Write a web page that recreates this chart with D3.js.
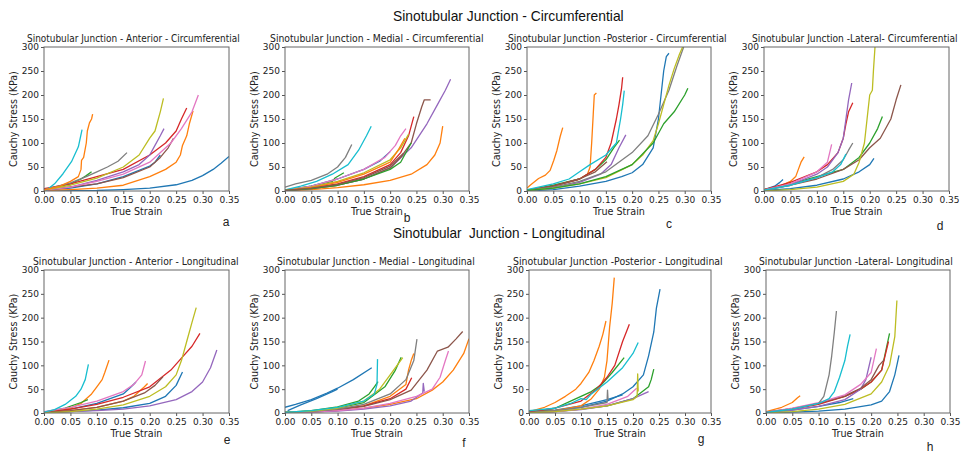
<!DOCTYPE html>
<html>
<head>
<meta charset="utf-8">
<script src="https://cdn.jsdelivr.net/npm/d3@7"></script>
<style>
  body { margin: 0; background: #fff; }
  svg { display: block; }
</style>
</head>
<body>
<div id="chart"></div>
<script>
// strain ticks / stress ticks shared by every subplot
const strainTicks = [0, 0.05, 0.10, 0.15, 0.20, 0.25, 0.30, 0.35];
const stressTicks = [0, 50, 100, 150, 200, 250, 300];

const rowTitles = ["Sinotubular Junction - Circumferential", "Sinotubular  Junction - Longitudinal"];
const panelTitles = [
  "Sinotubular Junction - Anterior - Circumferential",
  "Sinotubular Junction - Medial - Circumferential",
  "Sinotubular Junction -Posterior - Circumferential",
  "Sinotubular Junction -Lateral- Circumferential",
  "Sinotubular Junction - Anterior - Longitudinal",
  "Sinotubular Junction - Medial - Longitudinal",
  "Sinotubular Junction -Posterior - Longitudinal",
  "Sinotubular Junction -Lateral- Longitudinal"
];
const panelLetters = ["a", "b", "c", "d", "e", "f", "g", "h"];

// each series: s = specimen index (matplotlib colour cycle), pts = [strain, stress kPa]
const anteriorCirc = [
  {s: 0, pts: [[0,0],[0.1,1],[0.15,3],[0.2,6],[0.25,13],[0.28,22],[0.3,32],[0.32,45],[0.335,58],[0.35,72]]},
  {s: 0, pts: [[0,2],[0.05,6],[0.1,15],[0.15,30],[0.2,52],[0.21,60],[0.22,75]]},
  {s: 1, pts: [[0,1],[0.05,3],[0.1,6],[0.15,12],[0.2,30],[0.23,45],[0.25,60],[0.258,75],[0.262,95],[0.27,115],[0.275,140],[0.282,167]]},
  {s: 2, pts: [[0,3],[0.05,15],[0.07,25],[0.08,32],[0.09,40]]},
  {s: 3, pts: [[0,5],[0.05,15],[0.1,30],[0.15,45],[0.2,75],[0.23,100],[0.25,125],[0.26,150],[0.27,173]]},
  {s: 4, pts: [[0,1],[0.05,8],[0.1,22],[0.15,40],[0.18,55],[0.2,75],[0.21,95],[0.22,115],[0.227,130]]},
  {s: 5, pts: [[0,2],[0.1,15],[0.15,28],[0.2,50],[0.22,70],[0.235,90],[0.245,110]]},
  {s: 6, pts: [[0,2],[0.05,8],[0.1,20],[0.15,35],[0.2,60],[0.24,100],[0.26,130],[0.28,165],[0.292,200]]},
  {s: 7, pts: [[0,3],[0.05,17],[0.08,30],[0.1,40],[0.12,50],[0.14,62],[0.157,80]]},
  {s: 8, pts: [[0,2],[0.05,12],[0.1,27],[0.15,50],[0.18,75],[0.2,110],[0.21,125],[0.22,165],[0.226,193]]},
  {s: 9, pts: [[0.004,1],[0.02,15],[0.036,36],[0.052,61],[0.065,92],[0.072,128]]},
  {s: 1, pts: [[0,2],[0.03,10],[0.05,20],[0.065,30],[0.07,45],[0.071,64],[0.075,70],[0.08,100],[0.082,125],[0.086,142],[0.09,150],[0.092,160]]}
];

const medialCirc = [
  {s: 0, pts: [[0,1],[0.05,10],[0.1,25],[0.15,45],[0.18,62],[0.2,82]]},
  {s: 1, pts: [[0,0],[0.05,3],[0.1,7],[0.15,13],[0.2,22],[0.24,35],[0.27,55],[0.285,75],[0.295,100],[0.3,135]]},
  {s: 2, pts: [[0,2],[0.05,10],[0.09,20],[0.095,27],[0.112,38]]},
  {s: 3, pts: [[0,1],[0.05,6],[0.1,15],[0.15,30],[0.2,55],[0.22,80],[0.235,115],[0.245,155]]},
  {s: 4, pts: [[0,1],[0.05,5],[0.1,12],[0.15,25],[0.2,48],[0.24,90],[0.27,140],[0.29,180],[0.305,210],[0.315,233]]},
  {s: 5, pts: [[0,1],[0.05,5],[0.1,12],[0.15,25],[0.2,48],[0.22,70],[0.24,100],[0.25,140],[0.26,175],[0.265,190],[0.277,190]]},
  {s: 6, pts: [[0,2],[0.05,10],[0.1,25],[0.15,45],[0.19,70],[0.21,95],[0.22,115],[0.23,130]]},
  {s: 7, pts: [[0,8],[0.02,15],[0.05,22],[0.08,35],[0.1,50],[0.115,70],[0.127,97]]},
  {s: 8, pts: [[0,1],[0.05,8],[0.1,20],[0.15,38],[0.2,65],[0.22,90],[0.235,118]]},
  {s: 9, pts: [[0,2],[0.03,10],[0.06,20],[0.09,35],[0.12,55],[0.14,85],[0.155,115],[0.164,135]]},
  {s: 1, pts: [[0,1],[0.05,7],[0.1,18],[0.15,35],[0.2,60],[0.215,85],[0.228,110]]},
  {s: 2, pts: [[0,1],[0.05,5],[0.1,12],[0.15,25],[0.2,45],[0.22,60],[0.24,100]]},
  {s: 5, pts: [[0,1],[0.05,6],[0.1,14],[0.15,28],[0.2,52],[0.225,78]]}
];

const posteriorCirc = [
  {s: 0, pts: [[0,0],[0.05,3],[0.1,10],[0.15,20],[0.18,30],[0.2,38],[0.22,55],[0.24,90],[0.25,150],[0.255,200],[0.26,250],[0.265,280],[0.27,287]]},
  {s: 1, pts: [[0,6],[0.006,12],[0.022,26],[0.035,33],[0.044,43],[0.051,64],[0.057,85],[0.063,113],[0.068,132]]},
  {s: 1, pts: [[0,1],[0.05,10],[0.1,25],[0.115,35],[0.12,50],[0.123,100],[0.126,160],[0.128,200],[0.132,204]]},
  {s: 2, pts: [[0,2],[0.05,12],[0.1,25],[0.13,45],[0.15,65],[0.165,90],[0.176,106]]},
  {s: 3, pts: [[0,2],[0.05,10],[0.1,25],[0.13,45],[0.15,70],[0.16,100],[0.17,150],[0.175,180],[0.18,215],[0.182,237]]},
  {s: 4, pts: [[0,1],[0.05,6],[0.1,18],[0.14,35],[0.16,55],[0.175,90],[0.188,117]]},
  {s: 5, pts: [[0,2],[0.05,10],[0.1,25],[0.13,40],[0.152,61]]},
  {s: 7, pts: [[0,1],[0.05,8],[0.1,20],[0.15,40],[0.2,80],[0.23,115],[0.25,160],[0.27,210],[0.285,260],[0.298,300]]},
  {s: 8, pts: [[0,1],[0.05,6],[0.1,15],[0.15,28],[0.2,55],[0.22,75],[0.24,105],[0.25,140],[0.26,180],[0.27,220],[0.28,255],[0.29,285],[0.296,300]]},
  {s: 9, pts: [[0,3],[0.05,15],[0.08,25],[0.1,40],[0.12,55],[0.15,75],[0.17,100],[0.178,150],[0.182,180],[0.185,209]]},
  {s: 2, pts: [[0,1],[0.05,6],[0.1,15],[0.15,30],[0.2,55],[0.24,100],[0.26,140],[0.28,165],[0.3,200],[0.306,214]]}
];

const lateralCirc = [
  {s: 0, pts: [[0,3],[0.02,10],[0.03,18],[0.036,24]]},
  {s: 0, pts: [[0,1],[0.05,5],[0.1,12],[0.15,25],[0.18,40],[0.2,55],[0.208,68]]},
  {s: 1, pts: [[0,3],[0.03,10],[0.05,20],[0.06,30],[0.065,45],[0.07,60],[0.076,71]]},
  {s: 2, pts: [[0,3],[0.05,15],[0.1,30],[0.15,45],[0.18,70],[0.2,100],[0.215,130],[0.224,155]]},
  {s: 3, pts: [[0,3],[0.05,18],[0.1,40],[0.12,55],[0.14,80],[0.15,110],[0.155,140],[0.16,165],[0.168,184]]},
  {s: 4, pts: [[0,2],[0.05,13],[0.1,35],[0.12,50],[0.14,80],[0.15,110],[0.155,150],[0.16,190],[0.166,225]]},
  {s: 5, pts: [[0,2],[0.05,12],[0.1,25],[0.15,45],[0.18,65],[0.2,90],[0.22,110],[0.24,150],[0.25,190],[0.259,221]]},
  {s: 6, pts: [[0,2],[0.05,15],[0.1,40],[0.12,60],[0.128,97]]},
  {s: 7, pts: [[0,2],[0.05,12],[0.1,28],[0.13,45],[0.15,65],[0.16,85],[0.168,100]]},
  {s: 8, pts: [[0,0],[0.05,3],[0.1,8],[0.15,20],[0.17,35],[0.18,60],[0.19,100],[0.195,150],[0.2,200],[0.205,210],[0.207,250],[0.21,300]]},
  {s: 9, pts: [[0,2],[0.05,12],[0.1,28],[0.13,40],[0.145,55],[0.155,77]]}
];

const anteriorLong = [
  {s: 0, pts: [[0,1],[0.05,8],[0.1,20],[0.15,40],[0.165,55],[0.174,65]]},
  {s: 0, pts: [[0,0],[0.05,3],[0.1,6],[0.15,11],[0.2,20],[0.23,35],[0.25,58],[0.262,86]]},
  {s: 1, pts: [[0,2],[0.05,10],[0.07,20],[0.08,30],[0.09,40],[0.1,55],[0.11,70],[0.115,85],[0.123,111]]},
  {s: 1, pts: [[0,1],[0.05,5],[0.1,12],[0.15,25],[0.17,35],[0.18,45],[0.19,55],[0.196,62]]},
  {s: 2, pts: [[0,2],[0.04,10],[0.07,22],[0.083,28]]},
  {s: 3, pts: [[0,2],[0.05,8],[0.1,18],[0.15,33],[0.2,55],[0.24,90],[0.26,115],[0.28,140],[0.295,167]]},
  {s: 4, pts: [[0,0],[0.05,3],[0.1,5],[0.15,8],[0.2,15],[0.25,28],[0.28,45],[0.3,65],[0.315,95],[0.327,132]]},
  {s: 5, pts: [[0,1],[0.05,5],[0.1,12],[0.15,25],[0.19,42],[0.21,58],[0.225,76]]},
  {s: 6, pts: [[0,3],[0.05,12],[0.1,25],[0.15,45],[0.17,60],[0.185,80],[0.192,109]]},
  {s: 8, pts: [[0,0],[0.05,3],[0.1,8],[0.15,17],[0.2,35],[0.23,55],[0.25,80],[0.26,110],[0.27,150],[0.28,190],[0.288,221]]},
  {s: 9, pts: [[0,2],[0.02,7],[0.04,18],[0.06,35],[0.07,50],[0.078,70],[0.084,102]]}
];

const medialLong = [
  {s: 0, pts: [[0,12],[0.02,18],[0.05,28],[0.08,42],[0.1,52],[0.13,70],[0.165,95]]},
  {s: 0, pts: [[0.005,5],[0.03,17],[0.06,30],[0.09,45],[0.1,50]]},
  {s: 1, pts: [[0,0],[0.05,2],[0.1,5],[0.15,10],[0.2,18],[0.25,30],[0.28,48],[0.3,65],[0.32,90],[0.34,125],[0.35,156]]},
  {s: 1, pts: [[0,1],[0.05,3],[0.1,8],[0.15,15],[0.2,35],[0.23,60],[0.235,90],[0.24,110],[0.245,125]]},
  {s: 2, pts: [[0,1],[0.05,5],[0.1,13],[0.14,25],[0.16,40],[0.17,55],[0.177,66]]},
  {s: 2, pts: [[0,1],[0.05,4],[0.1,10],[0.15,22],[0.19,55],[0.21,90],[0.221,117]]},
  {s: 3, pts: [[0,0],[0.05,3],[0.1,7],[0.15,15],[0.2,30],[0.23,50],[0.241,74]]},
  {s: 4, pts: [[0,0],[0.05,2],[0.1,4],[0.15,8],[0.2,15],[0.24,25],[0.262,42],[0.263,62],[0.265,45]]},
  {s: 5, pts: [[0,1],[0.05,3],[0.1,7],[0.15,14],[0.2,28],[0.24,48],[0.27,90],[0.29,130],[0.31,138],[0.325,155],[0.338,171]]},
  {s: 6, pts: [[0,0],[0.05,2],[0.1,5],[0.15,10],[0.2,20],[0.25,35],[0.28,50],[0.295,75],[0.305,110],[0.311,130]]},
  {s: 7, pts: [[0,1],[0.05,3],[0.1,8],[0.15,18],[0.2,40],[0.23,70],[0.245,110],[0.251,155]]},
  {s: 8, pts: [[0,1],[0.05,4],[0.1,10],[0.15,25],[0.18,50],[0.2,80],[0.224,116]]},
  {s: 9, pts: [[0,1],[0.05,5],[0.1,12],[0.15,25],[0.17,40],[0.175,60],[0.176,113]]}
];

const posteriorLong = [
  {s: 0, pts: [[0,1],[0.05,5],[0.1,12],[0.15,25],[0.18,40],[0.2,55],[0.22,80],[0.23,120],[0.24,170],[0.245,220],[0.252,260]]},
  {s: 0, pts: [[0,2],[0.05,6],[0.1,15],[0.15,28],[0.18,38]]},
  {s: 1, pts: [[0,3],[0.03,12],[0.05,22],[0.07,35],[0.09,50],[0.1,62],[0.115,85],[0.125,110],[0.135,140],[0.142,165],[0.148,193]]},
  {s: 1, pts: [[0,0],[0.05,5],[0.1,15],[0.12,30],[0.135,50],[0.145,75],[0.15,110],[0.155,180],[0.16,230],[0.164,284]]},
  {s: 2, pts: [[0,2],[0.05,10],[0.08,25],[0.1,35],[0.12,45],[0.14,60],[0.16,85],[0.183,116]]},
  {s: 2, pts: [[0,0],[0.05,3],[0.1,8],[0.15,15],[0.2,30],[0.23,55],[0.235,70],[0.24,92]]},
  {s: 3, pts: [[0,2],[0.05,10],[0.1,25],[0.13,50],[0.15,75],[0.165,100],[0.18,150],[0.193,186]]},
  {s: 4, pts: [[0,0],[0.05,3],[0.1,7],[0.15,15],[0.2,30],[0.23,45]]},
  {s: 6, pts: [[0,0],[0.05,3],[0.1,8],[0.15,18],[0.19,35],[0.207,52]]},
  {s: 7, pts: [[0,1],[0.05,5],[0.1,12],[0.15,22],[0.151,48],[0.152,28]]},
  {s: 8, pts: [[0,0],[0.05,3],[0.1,8],[0.15,15],[0.2,28],[0.208,35],[0.209,82],[0.21,45]]},
  {s: 9, pts: [[0,5],[0.05,10],[0.08,20],[0.1,30],[0.11,28],[0.12,40],[0.15,65],[0.18,95],[0.2,125],[0.21,148]]}
];

const lateralLong = [
  {s: 0, pts: [[0,0],[0.05,2],[0.1,4],[0.15,8],[0.2,17],[0.22,25],[0.235,45],[0.245,80],[0.253,121]]},
  {s: 0, pts: [[0,1],[0.05,6],[0.1,14],[0.14,22],[0.166,30]]},
  {s: 1, pts: [[0,3],[0.03,12],[0.05,22],[0.06,32],[0.065,36]]},
  {s: 2, pts: [[0,2],[0.05,9],[0.1,20],[0.15,35],[0.18,50],[0.2,65],[0.22,90],[0.235,167]]},
  {s: 3, pts: [[0,2],[0.05,8],[0.1,18],[0.15,35],[0.18,50],[0.2,65],[0.22,90],[0.233,150]]},
  {s: 4, pts: [[0,1],[0.05,6],[0.1,14],[0.15,28],[0.18,50],[0.19,70],[0.2,117]]},
  {s: 5, pts: [[0,2],[0.05,9],[0.1,20],[0.15,36],[0.18,52],[0.2,70],[0.215,100],[0.225,112]]},
  {s: 6, pts: [[0,2],[0.05,10],[0.1,22],[0.15,38],[0.18,60],[0.2,85],[0.205,110],[0.21,135]]},
  {s: 7, pts: [[0,1],[0.05,8],[0.1,20],[0.11,35],[0.12,80],[0.125,120],[0.13,170],[0.134,214]]},
  {s: 8, pts: [[0,0],[0.05,3],[0.1,8],[0.15,18],[0.2,40],[0.22,65],[0.235,100],[0.245,160],[0.249,236]]},
  {s: 9, pts: [[0,1],[0.05,8],[0.1,20],[0.12,30],[0.13,45],[0.14,75],[0.15,110],[0.155,140],[0.16,165]]}
];

const panelData = [anteriorCirc, medialCirc, posteriorCirc, lateralCirc,
                   anteriorLong, medialLong, posteriorLong, lateralLong];

const boxes = [
  {x: 44, y: 47, w: 185, h: 144}, {x: 285, y: 47, w: 184, h: 144},
  {x: 527, y: 47, w: 184, h: 144}, {x: 764, y: 47, w: 185, h: 144},
  {x: 44, y: 270, w: 185, h: 143}, {x: 285, y: 270, w: 184, h: 143},
  {x: 529, y: 270, w: 182, h: 143}, {x: 766, y: 270, w: 184, h: 143}
];
const titleSpans = [[27, 240], [270, 484], [508, 727], [752, 958], [33, 239], [277, 475], [513, 723], [759, 953]];
const letterPos = [[226, 226], [407, 222], [669, 228], [940, 230], [227, 444], [464, 447], [701, 443], [930, 451]];

const W = 965, H = 456;
const color = d3.scaleOrdinal().domain(d3.range(10)).range(d3.schemeCategory10);

const svg = d3.select("#chart").append("svg")
  .attr("width", W).attr("height", H)
  .style("font-family", "'DejaVu Sans', sans-serif");

// squeeze a text horizontally so it spans `width` px from (x, y) – the reference is condensed
function fitText(sel, x, y, width, rotate) {
  const natural = sel.node().getComputedTextLength();
  const k = width / natural;
  if (rotate) {
    sel.attr("transform", `translate(${x},${y}) rotate(-90) scale(${k},1)`);
  } else {
    sel.attr("transform", `translate(${x},${y}) scale(${k},1)`);
  }
  return sel;
}

const mainTitle = svg.append("text")
  .style("font-family", "'Liberation Sans', Arial, sans-serif")
  .style("font-size", "14px").attr("fill", "#111")
  .text(rowTitles[0]);
fitText(mainTitle, 393, 21, 231);

const longTitle = svg.append("text")
  .style("font-family", "'Liberation Sans', Arial, sans-serif")
  .style("font-size", "14px").attr("fill", "#111")
  .style("white-space", "pre")
  .text(rowTitles[1]);
fitText(longTitle, 393, 238, 212);

panelData.forEach((series, i) => {
  const b = boxes[i];
  const x = d3.scaleLinear().domain([0, 0.35]).range([b.x, b.x + b.w]);
  const y = d3.scaleLinear().domain([0, 300]).range([b.y + b.h, b.y]);
  const g = svg.append("g");

  g.append("clipPath").attr("id", "clip" + i)
    .append("rect").attr("x", b.x).attr("y", b.y).attr("width", b.w).attr("height", b.h);

  const line = d3.line().x(d => x(d[0])).y(d => y(d[1]));

  g.append("g").attr("clip-path", `url(#clip${i})`)
    .selectAll("path")
    .data(series)
    .join("path")
      .attr("d", d => line(d.pts))
      .attr("fill", "none")
      .attr("stroke", d => color(d.s))
      .attr("stroke-width", 1.3)
      .attr("stroke-linejoin", "round");

  const xAxis = g.append("g")
    .attr("transform", `translate(0,${b.y + b.h})`)
    .call(d3.axisBottom(x).tickValues(strainTicks).tickFormat(d3.format(".2f")).tickSize(3).tickPadding(3));
  const yAxis = g.append("g")
    .attr("transform", `translate(${b.x},0)`)
    .call(d3.axisLeft(y).tickValues(stressTicks).tickSize(3).tickPadding(2));

  [xAxis, yAxis].forEach(a => {
    a.select(".domain").remove();
    a.selectAll("line").attr("stroke", "#555");
    a.selectAll("text").attr("fill", "#222").style("font-size", "9px")
      .style("font-family", "'DejaVu Sans', sans-serif");
  });

  // frame on all four sides
  g.append("rect")
    .attr("x", b.x).attr("y", b.y).attr("width", b.w).attr("height", b.h)
    .attr("fill", "none").attr("stroke", "#666").attr("stroke-width", 1);

  const title = g.append("text")
    .style("font-size", "10px").attr("fill", "#222")
    .text(panelTitles[i]);
  fitText(title, titleSpans[i][0], b.y - 5, titleSpans[i][1] - titleSpans[i][0]);

  const xLabel = g.append("text")
    .style("font-size", "10px").attr("fill", "#222")
    .text("True Strain");
  fitText(xLabel, b.x + b.w / 2 - 26, b.y + b.h + 24, 52);

  const yLabel = g.append("text")
    .style("font-size", "10px").attr("fill", "#222")
    .text("Cauchy Stress (KPa)");
  fitText(yLabel, b.x - 27, b.y + b.h / 2 + 48, 96, true);

  g.append("text")
    .attr("x", letterPos[i][0]).attr("y", letterPos[i][1])
    .attr("text-anchor", "middle")
    .style("font-family", "'Liberation Sans', Arial, sans-serif")
    .style("font-size", "12px").attr("fill", "#222")
    .text(panelLetters[i]);
});
</script>
</body>
</html>
